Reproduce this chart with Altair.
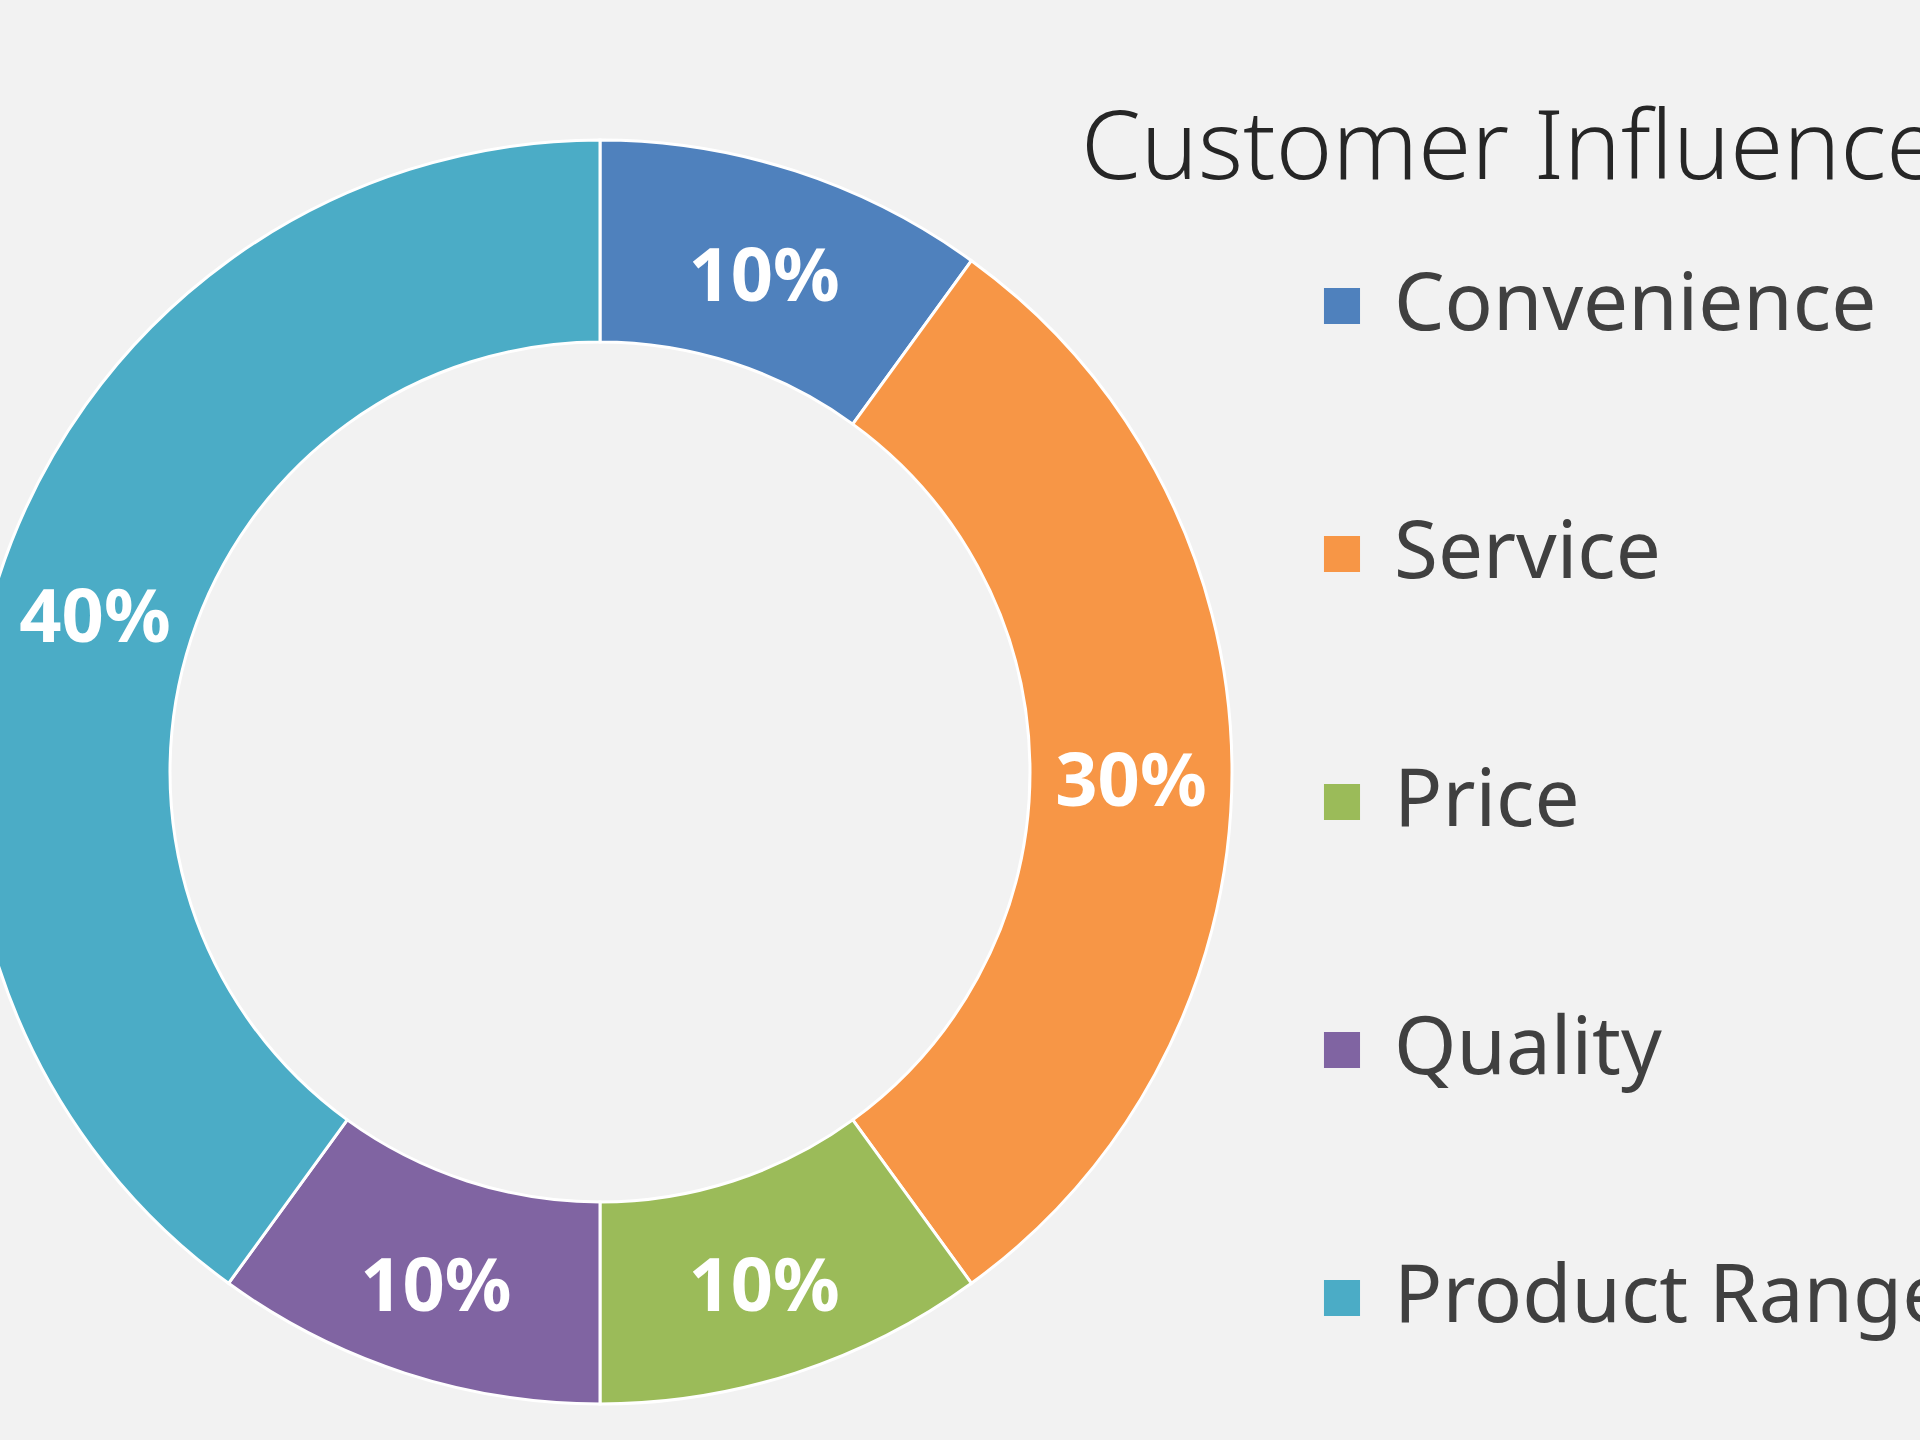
import altair as alt
import pandas as pd

categories = ["Convenience", "Service", "Price", "Quality", "Product Range"]
values = [10, 30, 10, 10, 40]
labels = ["10%", "30%", "10%", "10%", "40%"]
colors = ["#4F81BD", "#F79646", "#9BBB59", "#8064A2", "#4BACC6"]

df = pd.DataFrame({
    "category": categories,
    "value": values,
    "label": labels,
    "idx": list(range(len(categories))),
})

CX, CY = 600, 772
R_OUT, R_IN = 632, 430
FONT = "Noto Sans"

base = alt.Chart(df).encode(
    theta=alt.Theta("value:Q", stack=True),
    order=alt.Order("idx:Q", sort="ascending"),
    x=alt.value(CX),
    y=alt.value(CY),
)

arcs = base.mark_arc(outerRadius=R_OUT, innerRadius=R_IN, stroke="white", strokeWidth=3).encode(
    color=alt.Color(
        "category:N",
        scale=alt.Scale(domain=categories, range=colors),
        sort=categories,
        legend=alt.Legend(
            title=None,
            orient="none",
            legendX=1302,
            legendY=266,
            symbolType="square",
            symbolSize=1300,
            symbolStrokeWidth=0,
            labelFontSize=80,
            labelFont=FONT,
            labelColor="#404040",
            labelOffset=12,
            rowPadding=168,
            labelLimit=1000,
        ),
    )
)

texts = base.mark_text(
    radius=(R_OUT + R_IN) / 2,
    font=FONT,
    fontSize=74,
    fontWeight="bold",
    color="white",
    align="center",
    baseline="middle",
    dy=12,
).encode(text="label:N")

chart = (
    alt.layer(arcs, texts)
    .properties(
        width=1920,
        height=1440,
        autosize=alt.AutoSizeParams(type="none"),
        padding=0,
        background="#F2F2F2",
        title=alt.TitleParams(
            "Customer Influence",
            orient="top",
            anchor="start",
            frame="group",
            baseline="alphabetic",
            offset=0,
            dx=1081,
            dy=275,
            font=FONT,
            fontSize=96,
            fontWeight=300,
            color="#262626",
        ),
    )
    .configure_view(stroke=None)
)

chart.save("out.html", embed_options={"renderer": "svg", "actions": False})
